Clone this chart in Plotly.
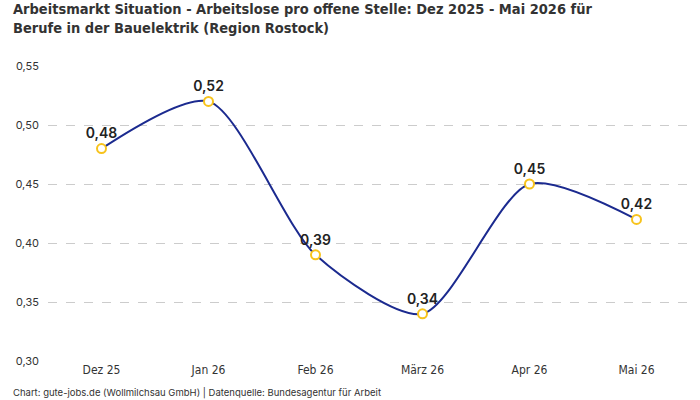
import plotly.graph_objects as go

months = ["Dez 25", "Jan 26", "Feb 26", "März 26", "Apr 26", "Mai 26"]
values = [0.48, 0.52, 0.39, 0.34, 0.45, 0.42]
labels = ["0,48", "0,52", "0,39", "0,34", "0,45", "0,42"]
yticks = [0.30, 0.35, 0.40, 0.45, 0.50, 0.55]
yticklabels = ["0,30", "0,35", "0,40", "0,45", "0,50", "0,55"]

fig = go.Figure()
fig.add_trace(go.Scatter(
    x=months, y=values, mode="lines+markers+text",
    line=dict(color="#1b2a8f", width=2, shape="spline", smoothing=0.75),
    marker=dict(symbol="circle", size=9, color="white", line=dict(color="#f7c31c", width=2)),
    text=labels, textposition="top center",
    textfont=dict(family="Inter, DejaVu Sans", size=14, color="#222222", weight=600),
    cliponaxis=False, hoverinfo="skip"
))

fig.update_layout(
    width=700, height=400,
    margin=dict(l=48, r=10, t=66, b=39),
    paper_bgcolor="white", plot_bgcolor="white",
    showlegend=False,
    xaxis=dict(
        showgrid=False, zeroline=False, showline=False, ticks="",
        tickfont=dict(family="DejaVu Sans Condensed, sans-serif", size=12, color="#333333"),
        range=[-0.5, 5.5],
    ),
    yaxis=dict(
        range=[0.30, 0.55], tickvals=yticks, ticktext=yticklabels,
        showgrid=True, gridcolor="#cccccc", griddash="dash", gridwidth=1,
        zeroline=False, showline=False, ticks="", ticklabelstandoff=8,
        tickfont=dict(family="Inter, sans-serif", size=11, color="#333333"),
    ),
    annotations=[
        dict(
            text="<b>Arbeitsmarkt Situation - Arbeitslose pro offene Stelle: Dez 2025 - Mai 2026 für<br>Berufe in der Bauelektrik (Region Rostock)</b>",
            xref="paper", yref="paper", x=-0.058, y=1.228, xanchor="left", yanchor="top",
            align="left", showarrow=False,
            font=dict(family="DejaVu Sans Condensed, sans-serif", size=14.5, color="#333333"),
        ),
        dict(
            text="Chart: gute-jobs.de (Wollmilchsau GmbH) | Datenquelle: Bundesagentur für Arbeit",
            xref="paper", yref="paper", x=-0.058, y=-0.108, xanchor="left", yanchor="middle",
            showarrow=False, font=dict(family="Inter, sans-serif", size=9.5, color="#333333"),
        ),
    ],
)

fig.write_html("out.html")
